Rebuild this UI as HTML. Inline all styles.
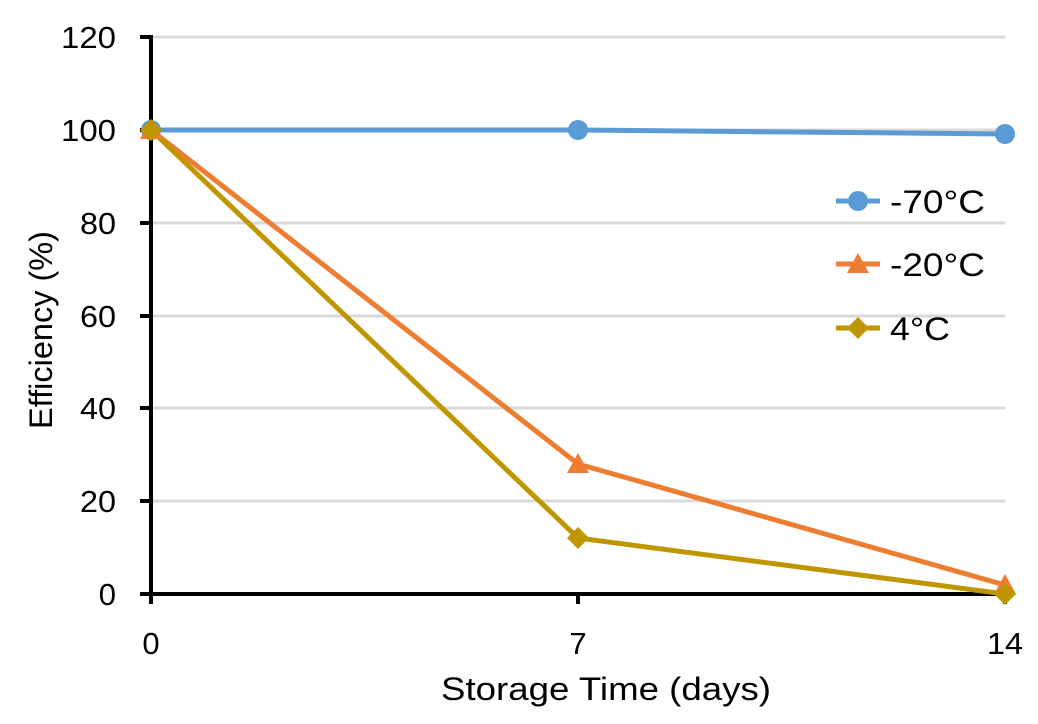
<!DOCTYPE html>
<html><head><meta charset="utf-8"><style>
html,body{margin:0;padding:0;background:#fff;}
svg{display:block;font-family:"Liberation Sans",Arial,sans-serif;}
</style></head><body>
<svg width="1038" height="724" viewBox="0 0 1038 724" xmlns="http://www.w3.org/2000/svg">
<g stroke="#d9d9d9" stroke-width="3">
<line x1="151" y1="37" x2="1005" y2="37"/>
<line x1="151" y1="130" x2="1005" y2="130"/>
<line x1="151" y1="223" x2="1005" y2="223"/>
<line x1="151" y1="316" x2="1005" y2="316"/>
<line x1="151" y1="408" x2="1005" y2="408"/>
<line x1="151" y1="501" x2="1005" y2="501"/>
</g>
<g stroke="#000" stroke-width="4">
<line x1="151" y1="35" x2="151" y2="596"/>
<line x1="149" y1="594" x2="1007" y2="594"/>
<line x1="140" y1="37" x2="151" y2="37"/>
<line x1="140" y1="130" x2="151" y2="130"/>
<line x1="140" y1="223" x2="151" y2="223"/>
<line x1="140" y1="316" x2="151" y2="316"/>
<line x1="140" y1="408" x2="151" y2="408"/>
<line x1="140" y1="501" x2="151" y2="501"/>
<line x1="140" y1="594" x2="151" y2="594"/>
<line x1="151" y1="594" x2="151" y2="604"/>
<line x1="578" y1="594" x2="578" y2="604"/>
<line x1="1005" y1="594" x2="1005" y2="604"/>
</g>
<g font-size="31" text-anchor="end" fill="#000" lengthAdjust="spacingAndGlyphs">
<text x="116" y="48" textLength="55" lengthAdjust="spacingAndGlyphs">120</text>
<text x="116" y="141" textLength="55" lengthAdjust="spacingAndGlyphs">100</text>
<text x="116" y="234" textLength="36" lengthAdjust="spacingAndGlyphs">80</text>
<text x="116" y="327" textLength="36" lengthAdjust="spacingAndGlyphs">60</text>
<text x="116" y="419" textLength="36" lengthAdjust="spacingAndGlyphs">40</text>
<text x="116" y="512" textLength="36" lengthAdjust="spacingAndGlyphs">20</text>
<text x="116" y="605">0</text>
</g>
<g font-size="31" text-anchor="middle" fill="#000">
<text x="151" y="654">0</text>
<text x="578" y="654">7</text>
<text x="1005" y="654" textLength="36" lengthAdjust="spacingAndGlyphs">14</text>
<text x="606" y="700" font-size="32" textLength="330" lengthAdjust="spacingAndGlyphs">Storage Time (days)</text>
<text transform="translate(52,330) rotate(-90)" font-size="32" textLength="198" lengthAdjust="spacingAndGlyphs">Efficiency (%)</text>
</g>
<polyline points="151,130 578,130 1005,134" fill="none" stroke="#5b9bd5" stroke-width="5"/>
<polyline points="151,130 578,464 1005,585" fill="none" stroke="#ed7d31" stroke-width="5"/>
<polyline points="151,130 578,538 1005,594" fill="none" stroke="#c09600" stroke-width="5"/>
<g fill="#5b9bd5"><circle cx="151" cy="130" r="10"/><circle cx="578" cy="130" r="10"/><circle cx="1005" cy="134" r="10"/></g>
<g fill="#ed7d31"><polygon points="151,119 162,139 140,139"/><polygon points="578,453 589,473 567,473"/><polygon points="1005,574 1016,594 994,594"/></g>
<g fill="#c09600"><polygon points="151,119 162,130 151,141 140,130"/><polygon points="578,527 589,538 578,549 567,538"/><polygon points="1005,583 1016,594 1005,605 994,594"/></g>
<line x1="836" y1="201" x2="880" y2="201" stroke="#5b9bd5" stroke-width="5"/><circle cx="858" cy="201" r="10" fill="#5b9bd5"/>
<line x1="836" y1="264" x2="880" y2="264" stroke="#ed7d31" stroke-width="5"/><polygon points="858,253 869,273 847,273" fill="#ed7d31"/>
<line x1="836" y1="328" x2="880" y2="328" stroke="#c09600" stroke-width="5"/><polygon points="858,317 869,328 858,339 847,328" fill="#c09600"/>
<g font-size="32" fill="#000">
<text x="890" y="213" textLength="95" lengthAdjust="spacingAndGlyphs">-70°C</text>
<text x="890" y="276" textLength="95" lengthAdjust="spacingAndGlyphs">-20°C</text>
<text x="890" y="340" textLength="60" lengthAdjust="spacingAndGlyphs">4°C</text>
</g>
</svg>
</body></html>
